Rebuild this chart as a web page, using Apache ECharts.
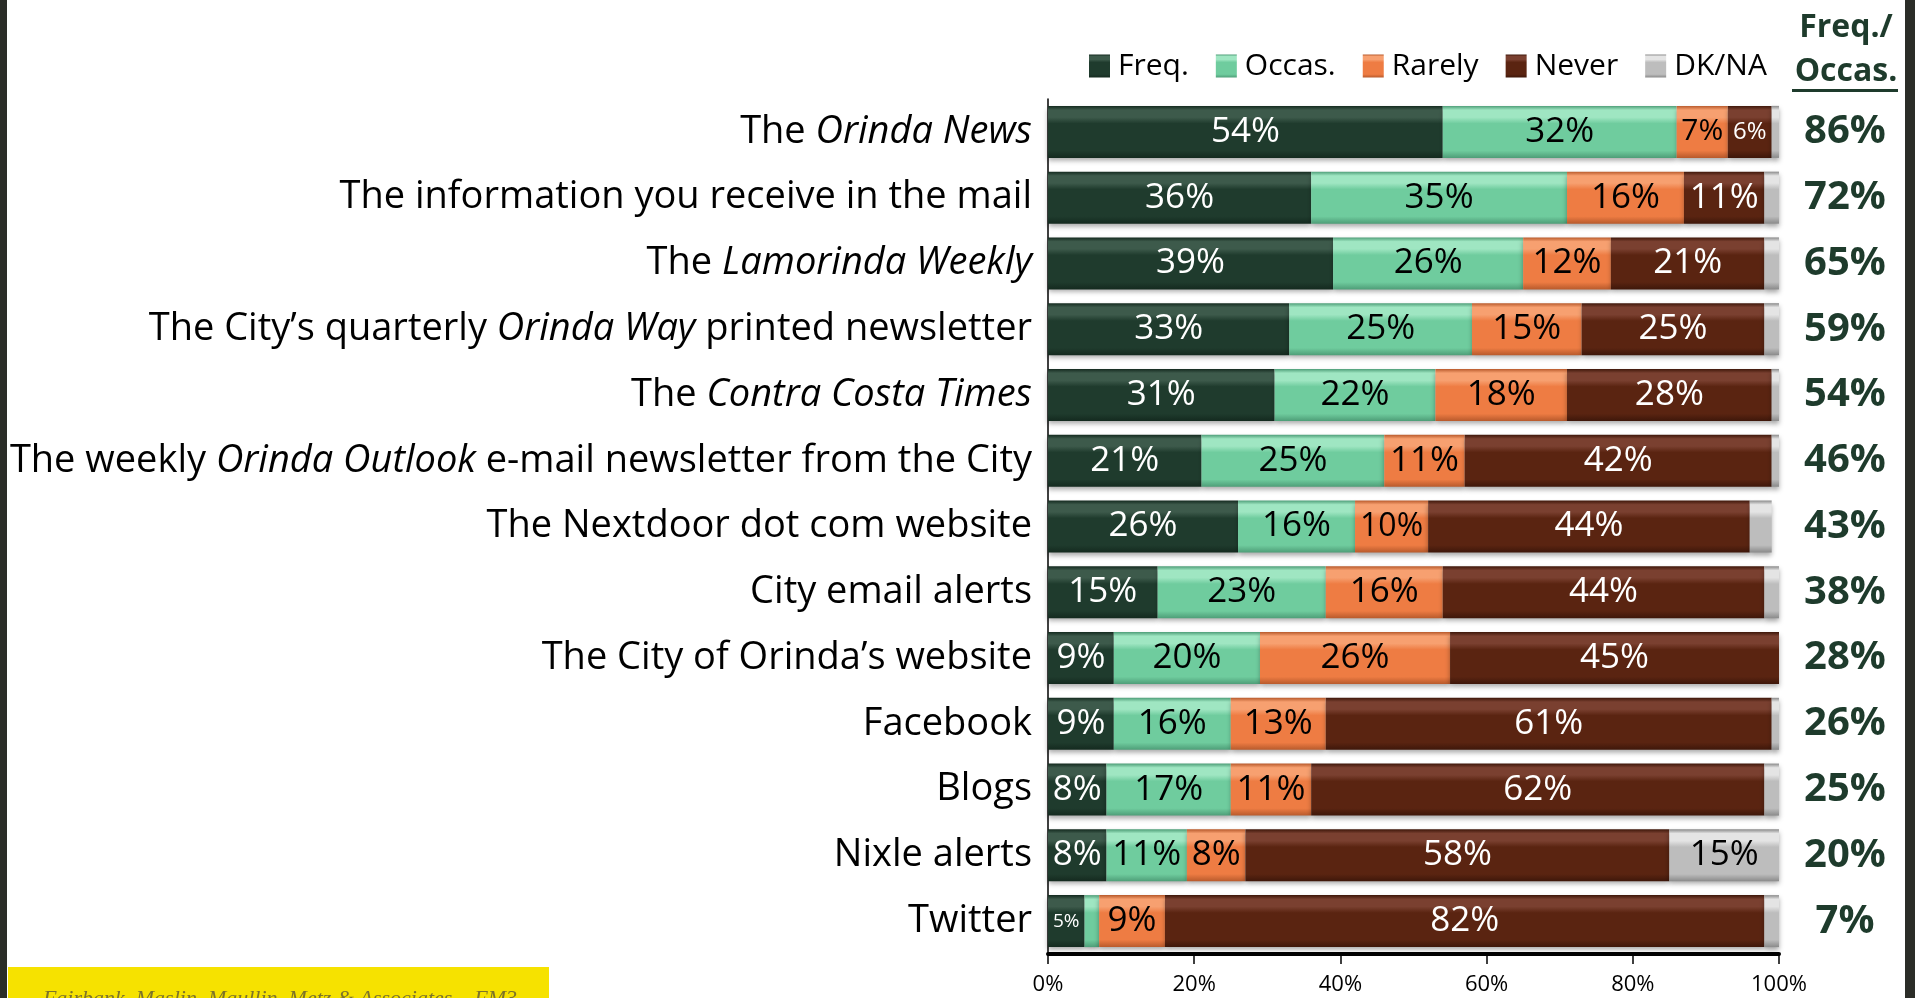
<!DOCTYPE html>
<html>
<head>
<meta charset="utf-8">
<script src="https://cdn.jsdelivr.net/npm/echarts@6/dist/echarts.min.js"></script>
<style>
  html, body { margin: 0; padding: 0; background: #fff; }
  #main { width: 1915px; height: 998px; }
</style>
</head>
<body>
<div id="main"></div>
<script>
    // sources, top to bottom
    var categories = [
        'The Orinda News',
        'The information you receive in the mail',
        'The Lamorinda Weekly',
        'The City\u2019s quarterly Orinda Way printed newsletter',
        'The Contra Costa Times',
        'The weekly Orinda Outlook e-mail newsletter from the City',
        'The Nextdoor dot com website',
        'City email alerts',
        'The City of Orinda\u2019s website',
        'Facebook',
        'Blogs',
        'Nixle alerts',
        'Twitter'
    ];
    var italicTitles = ['Orinda News', 'Lamorinda Weekly', 'Orinda Way', 'Contra Costa Times', 'Orinda Outlook'];

    var freq   = [54, 36, 39, 33, 31, 21, 26, 15,  9,  9,  8,  8,  5];
    var occas  = [32, 35, 26, 25, 22, 25, 16, 23, 20, 16, 17, 11,  2];
    var rarely = [ 7, 16, 12, 15, 18, 11, 10, 16, 26, 13, 11,  8,  9];
    var never  = [ 6, 11, 21, 25, 28, 42, 44, 44, 45, 61, 62, 58, 82];
    var dkna   = [ 1,  2,  2,  2,  1,  1,  3,  2,  0,  1,  2, 15,  2];

    var freqOccas = ['86%', '72%', '65%', '59%', '54%', '46%', '43%', '38%', '28%', '26%', '25%', '20%', '7%'];
    var xTicks = [0, 20, 40, 60, 80, 100];

    var FONT = 'Open Sans';
    var GREEN_TXT = '#1e3b2c';

    function gloss(top, main, bottom) {
        return new echarts.graphic.LinearGradient(0, 0, 0, 1, [
            { offset: 0, color: bottom },
            { offset: 0.08, color: top },
            { offset: 0.22, color: top },
            { offset: 0.34, color: main },
            { offset: 0.86, color: main },
            { offset: 1, color: bottom }
        ]);
    }

    var seriesDefs = [
        { name: 'Freq.',  data: freq,   color: gloss('#3d5a4b', '#1f3b2d', '#142a1f'), text: '#fff' },
        { name: 'Occas.', data: occas,  color: gloss('#9fe6c2', '#6fcc9e', '#4e9e78'), text: '#000' },
        { name: 'Rarely', data: rarely, color: gloss('#f7a070', '#ee7c43', '#b85a2c'), text: '#000' },
        { name: 'Never',  data: never,  color: gloss('#7a4030', '#5a2411', '#3e170a'), text: '#fff' },
        { name: 'DK/NA',  data: dkna,   color: gloss('#e4e4e4', '#bdbdbd', '#8a8a8a'), text: '#000' }
    ];

    var pxPerPct = 7.31;

    var series = seriesDefs.map(function (s) {
        return {
            name: s.name,
            type: 'bar',
            stack: 'total',
            barWidth: 52,
            itemStyle: {
                color: s.color,
                shadowColor: 'rgba(0,0,0,0.35)',
                shadowBlur: 5,
                shadowOffsetY: 3
            },
            data: s.data.map(function (v) {
                var txt = v + '%';
                var em = (txt.length - 1) * 0.572 + 0.823;
                var fs = Math.min(35, Math.floor((v * pxPerPct - 9) / em));
                return {
                    value: v,
                    label: {
                        show: v >= 5,
                        fontSize: fs
                    }
                };
            }),
            label: {
                show: true,
                position: 'inside',
                color: s.text,
                fontFamily: FONT,
                fontSize: 35,
                formatter: '{c}%'
            }
        };
    });

    var myChart = echarts.init(document.getElementById('main'));
    var option = {
        backgroundColor: '#fff',
        animation: false,
        textStyle: { fontFamily: FONT },
        legend: {
            left: 1084,
            top: 46,
            icon: 'rect',
            itemWidth: 21,
            itemHeight: 23,
            itemGap: 27,
            textStyle: { fontFamily: FONT, fontSize: 30, color: '#000', padding: [0, 0, 0, 3] },
            data: seriesDefs.map(function (s) { return s.name; })
        },
        grid: {
            left: 1048,
            right: 136,
            top: 99,
            bottom: 44,
            containLabel: false
        },
        xAxis: {
            type: 'value',
            min: 0,
            max: 100,
            interval: 20,
            axisLine: { show: true, lineStyle: { color: '#000', width: 4 } },
            axisTick: { show: true, length: 10, lineStyle: { color: '#000', width: 1.5 } },
            splitLine: { show: false },
            axisLabel: {
                margin: 20,
                fontFamily: FONT,
                fontSize: 22,
                color: '#000',
                formatter: function (v) { return xTicks.indexOf(v) >= 0 ? v + '%' : ''; }
            }
        },
        yAxis: [{
            type: 'category',
            inverse: true,
            data: categories,
            axisLine: { show: true, lineStyle: { color: '#000', width: 1.5 } },
            axisTick: { show: false },
            axisLabel: {
                margin: 16,
                fontFamily: FONT,
                fontSize: 38,
                color: '#000',
                formatter: function (v) {
                    italicTitles.forEach(function (t) {
                        if (v.indexOf(t) >= 0) v = v.replace(t, '{i|' + t + '}');
                    });
                    return v;
                },
                rich: {
                    i: { fontFamily: FONT, fontSize: 38, fontStyle: 'italic', color: '#000' }
                }
            }
        }, {
            type: 'category',
            inverse: true,
            position: 'right',
            data: freqOccas,
            axisLine: { show: false },
            axisTick: { show: false },
            axisLabel: {
                margin: 66,
                align: 'center',
                fontFamily: FONT,
                fontSize: 40,
                fontWeight: 'bold',
                color: GREEN_TXT
            }
        }],
        graphic: [
            { type: 'rect', left: 0, top: 0, shape: { width: 7, height: 998 }, style: { fill: '#2b2d28' } },
            { type: 'rect', left: 1905, top: 0, shape: { width: 10, height: 998 }, style: { fill: '#2b2d28' } },
            {
                type: 'text', x: 1846, y: 28,
                style: { text: 'Freq./', font: 'bold 32px "Open Sans"', fill: GREEN_TXT, align: 'center', verticalAlign: 'middle' }
            },
            {
                type: 'text', x: 1846, y: 72,
                style: { text: 'Occas.', font: 'bold 32px "Open Sans"', fill: GREEN_TXT, align: 'center', verticalAlign: 'middle' }
            },
            { type: 'rect', left: 1792, top: 89, shape: { width: 106, height: 3 }, style: { fill: GREEN_TXT } },
            { type: 'rect', left: 8, top: 967, shape: { width: 541, height: 31 }, style: { fill: '#f6e200' } },
            {
                type: 'text', x: 280, y: 999,
                style: {
                    text: 'Fairbank, Maslin, Maullin, Metz & Associates \u2013 FM3',
                    font: 'italic 22px "Liberation Serif"',
                    fill: '#7d7428',
                    align: 'center',
                    verticalAlign: 'middle'
                }
            }
        ],
        series: series
    };
    myChart.setOption(option);
</script>
</body>
</html>
